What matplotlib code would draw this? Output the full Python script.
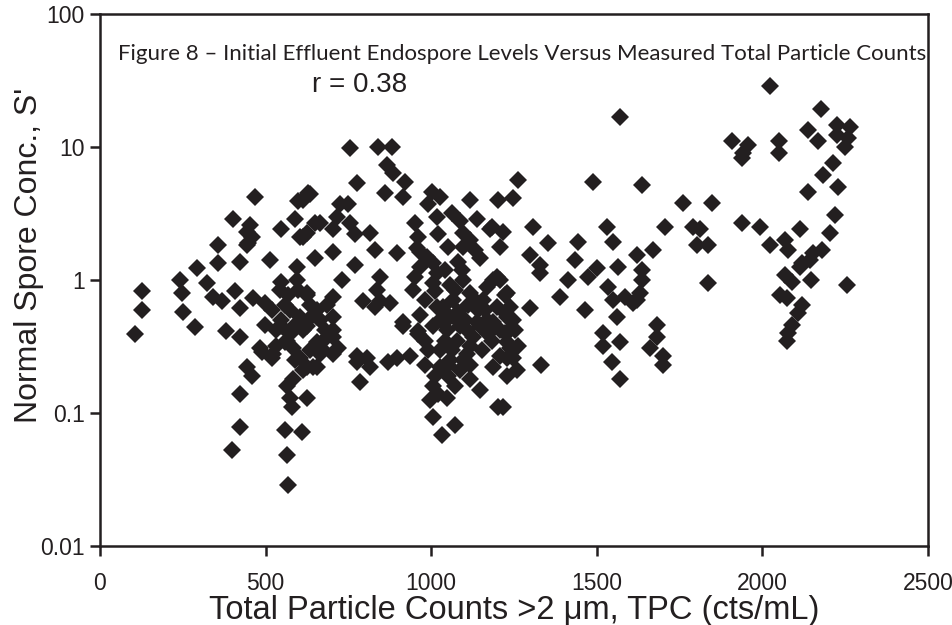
import matplotlib
matplotlib.use("Agg")
import matplotlib.pyplot as plt
from matplotlib.ticker import FixedLocator, FixedFormatter

# Total particle counts (cts/mL) for each effluent sample
tpc = [
    106, 126, 126, 242, 247, 251, 287, 292, 322, 341, 356, 356, 367, 382, 402, 408,
    423, 423, 423, 443, 447, 443, 453, 458, 462, 468, 488, 498, 513, 518, 522, 543,
    548, 548, 548, 548, 558, 564, 589, 594, 594, 598, 604, 604, 604, 613, 613, 583,
    624, 628, 649, 649, 654, 654, 643, 613, 664, 673, 443, 458, 423, 423, 398, 564,
    574, 579, 624, 558, 609, 564, 568, 583, 604, 634, 624, 664, 624, 654, 634, 613,
    483, 624, 679, 649, 624, 654,
    574, 589, 558, 634, 568, 598, 531, 498,
    519, 574, 664, 685, 531, 634, 589,
    755, 839, 881, 866, 885, 775, 921, 860, 915, 1001, 1026, 990, 1117, 1202, 1247, 1262,
    725, 749, 715, 703, 755, 770, 815, 951, 1017, 1062, 1087, 1137, 1183, 1217, 1208, 1020,
    1051, 1096, 1096, 703, 770, 830, 896, 956, 986, 966, 1147, 951, 945, 1005, 1011, 845,
    730, 703, 794, 845, 876, 1096, 1117, 1167, 1198, 1228, 1156, 1198, 1238, 1228, 703, 703,
    915, 960, 1026, 1036, 1066, 1077, 1147, 1186, 835, 830, 966, 1005, 1017, 960, 1186, 1223,
    1247, 1177, 673, 703, 805, 775, 815, 896, 936, 1017, 1057, 1087, 1107, 703, 719, 775,
    785, 869, 915, 960, 1005, 1026, 1026, 1005, 996, 1047, 1005, 1072, 1032, 1077, 1107, 1087,
    1126, 1152, 1183, 1208, 1228, 1247, 1186, 1228, 1258, 1147, 1202, 1137, 1167,
    1081, 1093, 1072, 1111, 1081, 1117, 1096, 1057, 1041, 1051, 1117, 1072, 1132, 1117,
    1041, 1057, 981, 966, 1048, 1132, 1141, 1171, 981, 1253,
    990, 981, 1011, 1063, 1102, 1117, 1051, 1020, 1162, 1208, 1262, 1238,
    1570, 1488, 1635, 1760, 1848, 1307, 1353, 1298, 1328, 1328, 1443, 1434, 1413, 1473, 1500, 1389,
    1464, 1298, 1530, 1549, 1564, 1534, 1549, 1585, 1620, 1630, 1635, 1635, 1620, 1669, 1560, 1706,
    1790, 1801, 1836, 1836, 1681, 1681, 1519, 1519, 1570, 1545, 1570, 1660, 1700, 1700, 1333, 1217,
    1223, 1238, 1228, 1223, 1609, 1208,
    2023, 2176, 2137, 2167, 2224, 2264, 2224, 2258, 2249, 1907, 1956, 1941, 1937, 2050, 2050, 2213,
    2183, 2228, 2137, 2219, 1937, 1992, 2113, 2204, 2023, 2068, 2077, 2179, 2152, 2143, 2118, 2113,
    1811, 2068, 2088, 2148, 2254, 2053, 2073, 2118, 2107, 2088, 2077, 2073,
]

# Normalised spore concentration S' for the same samples
spores = [
    0.39, 0.59, 0.82, 1.0, 0.80, 0.57, 0.44, 1.23, 0.95, 0.75, 1.83, 1.34, 0.69, 0.41, 2.9, 0.82,
    1.37, 0.62, 0.37, 1.83, 1.9, 2.3, 2.6, 2.1, 0.73, 4.2, 0.29, 0.67, 1.41, 0.26, 0.28, 0.84,
    2.4, 0.97, 0.50, 0.45, 0.34, 0.35, 2.9, 1.26, 1.0, 3.9, 2.1, 0.53, 0.26, 2.1, 0.42, 0.31,
    0.80, 4.5, 2.7, 1.46, 0.59, 0.34, 0.22, 0.21, 0.28, 0.30, 0.22, 0.19, 0.14, 0.079, 0.053, 0.16,
    0.13, 0.11, 0.13, 0.074, 0.072, 0.048, 0.029, 0.18, 0.45, 0.65, 2.25, 2.7, 0.77, 0.53, 4.4, 4.0,
    0.31, 0.45, 0.42, 0.32, 0.22, 0.22,
    0.59, 0.46, 0.65, 0.52, 0.77, 0.84, 0.42, 0.46,
    0.59, 0.39, 0.50, 0.65, 0.32, 0.30, 0.25,
    9.8, 10.0, 10.0, 7.3, 6.4, 5.4, 5.5, 4.5, 4.2, 4.6, 4.2, 3.7, 4.0, 4.0, 4.1, 5.6,
    3.7, 3.7, 3.0, 2.4, 2.7, 2.2, 2.25, 2.7, 3.0, 3.2, 2.8, 2.9, 2.5, 2.3, 1.78, 2.2,
    1.78, 2.25, 1.78, 1.63, 1.30, 1.68, 1.60, 1.74, 1.50, 1.26, 1.46, 1.06, 0.84, 0.95, 0.82, 1.06,
    1.0, 0.75, 0.69, 0.69, 0.67, 1.0, 0.80, 0.89, 1.06, 0.80, 0.71, 0.63, 0.63, 0.53, 0.53, 0.42,
    0.48, 0.41, 0.50, 0.63, 0.71, 0.50, 0.45, 0.48, 0.84, 0.63, 1.63, 1.34, 1.13, 2.1, 1.0, 0.77,
    0.50, 2.4, 0.35, 0.28, 0.26, 0.24, 0.22, 0.26, 0.27, 0.63, 0.53, 0.45, 0.42, 0.37, 0.31, 0.27,
    0.17, 0.24, 0.45, 0.39, 0.45, 0.30, 0.22, 0.16, 0.125, 0.13, 0.094, 0.081, 0.068, 0.35, 0.28, 0.21,
    0.37, 0.30, 0.35, 0.42, 0.34, 0.26, 0.22, 0.19, 0.21, 0.15, 0.11, 0.48, 0.50,
    1.37, 1.19, 0.84, 0.65, 0.57, 0.32, 0.25, 0.25, 0.35, 0.19, 0.18, 0.16, 1.68, 2.0,
    1.19, 0.92, 0.71, 0.55, 0.42, 0.71, 0.59, 0.39, 0.35, 0.42,
    0.30, 0.23, 0.19, 0.30, 0.50, 0.23, 0.23, 0.14, 0.59, 0.27, 0.32, 0.42,
    16.8, 5.5, 5.2, 3.8, 3.8, 2.5, 1.9, 1.54, 1.30, 1.13, 1.94, 1.41, 1.0, 1.06, 1.23, 0.75,
    0.59, 0.62, 2.5, 1.94, 1.26, 0.89, 0.71, 0.75, 0.71, 0.80, 1.0, 1.19, 1.54, 1.68, 0.53, 2.5,
    2.5, 1.83, 1.83, 0.95, 0.46, 0.37, 0.40, 0.32, 0.34, 0.24, 0.18, 0.31, 0.27, 0.23, 0.23, 0.11,
    0.56, 0.31, 0.26, 0.40, 0.67, 1.0,
    29.0, 19.3, 13.4, 11.1, 14.6, 14.2, 12.3, 11.7, 10.0, 11.0, 10.4, 9.0, 8.3, 11.0, 9.0, 7.6,
    6.2, 5.0, 4.6, 3.1, 2.7, 2.5, 2.4, 2.25, 1.83, 2.0, 1.68, 1.68, 1.60, 1.41, 1.34, 1.26,
    2.4, 1.09, 0.97, 1.0, 0.92, 0.77, 0.73, 0.65, 0.56, 0.46, 0.40, 0.35,
]

x_ticks = [0, 500, 1000, 1500, 2000, 2500]
x_tick_labels = ["0", "500", "1000", "1500", "2000", "2500"]
y_ticks = [0.01, 0.1, 1, 10, 100]
y_tick_labels = ["0.01", "0.1", "1", "10", "100"]

title = "Figure 8 \u2013 Initial Effluent Endospore Levels Versus Measured Total Particle Counts"
r_label = "r = 0.38"
x_label = "Total Particle Counts >2 \u03bcm, TPC (cts/mL)"
y_label = "Normal Spore Conc., S'"

ink = "#231f20"

fig = plt.figure(figsize=(9.53, 6.25), dpi=100)
ax = fig.add_axes([0.1049, 0.1264, 0.8689, 0.8512])

ax.plot(tpc, spores, linestyle="none", marker="D", markersize=8.8,
        markerfacecolor=ink, markeredgewidth=0, clip_on=False)

ax.set_yscale("log")
ax.set_xlim(0, 2500)
ax.set_ylim(0.01, 100)

ax.xaxis.set_major_locator(FixedLocator(x_ticks))
ax.xaxis.set_major_formatter(FixedFormatter(x_tick_labels))
ax.yaxis.set_major_locator(FixedLocator(y_ticks))
ax.yaxis.set_major_formatter(FixedFormatter(y_tick_labels))
ax.yaxis.set_minor_locator(FixedLocator([]))

for side in ax.spines.values():
    side.set_linewidth(1.8)
    side.set_color(ink)

ax.tick_params(axis="both", which="major", direction="out", length=7,
               width=1.8, color=ink, pad=4)
for lab in ax.get_xticklabels() + ax.get_yticklabels():
    lab.set_fontfamily("Liberation Sans")
    lab.set_fontsize(16.5)
    lab.set_color(ink)
ax.tick_params(axis="x", pad=12)

ax.set_xlabel(x_label, fontfamily="Liberation Sans", fontsize=23.5, color=ink, labelpad=0)
ax.set_ylabel(y_label, fontfamily="Liberation Sans", fontsize=23, color=ink, labelpad=2)
ax.yaxis.set_label_coords(-0.068, 0.547)

ax.text(0.51, 0.925, title, transform=ax.transAxes, ha="center", va="center",
        fontfamily="Lato", fontsize=16, color=ink)
ax.text(0.313, 0.867, r_label, transform=ax.transAxes, ha="center", va="center",
        fontfamily="Liberation Sans", fontsize=20, color=ink)

fig.savefig("out.png", dpi=100)
